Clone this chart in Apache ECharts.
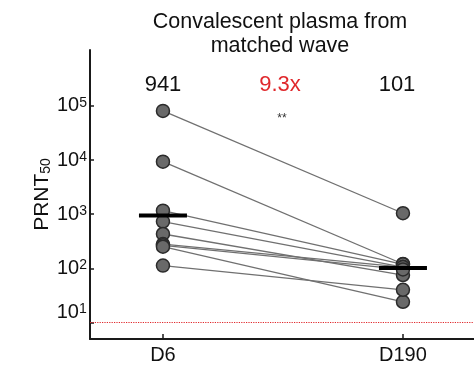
<!DOCTYPE html>
<html>
<head>
<meta charset="utf-8">
<script src="https://cdn.jsdelivr.net/npm/echarts@6/dist/echarts.min.js"></script>
<style>
  html, body { margin: 0; padding: 0; background: #fff; }
  #chart { width: 474px; height: 367px; }
</style>
</head>
<body>
<div id="chart"></div>
<script>
// Timepoints on the x axis
const timepoints = ['D6', 'D190'];
// PRNT50 titres per donor at each timepoint (paired by index)
const titreD6 = [80800, 9340, 1160, 730, 430, 280, 265, 250, 112];
const titreD190 = [1040, 120, 118, 105, 75, 105, 95, 24, 40];
// Geometric mean titres shown above each group
const geoMean = [941, 101];
// Limit of detection
const detectionLimit = 10;
// Decade ticks on the log axis
const yTicks = [10, 100, 1000, 10000, 100000];

const FONT = '"Liberation Sans", Arial, sans-serif';
const chart = echarts.init(document.getElementById('chart'), null, { renderer: 'canvas' });

// one connecting segment per donor
const pairSeries = titreD6.map((v, i) => ({
  type: 'line',
  data: [[0, v], [1, titreD190[i]]],
  symbol: 'none',
  silent: true,
  lineStyle: { color: '#707070', width: 1.3 },
  z: 2
}));

const points = [];
titreD6.forEach(v => points.push([0, v]));
titreD190.forEach(v => points.push([1, v]));

const supStyle = { fontFamily: FONT, fontSize: 14, color: '#111', verticalAlign: 'top', lineHeight: 2 };
const baseStyle = { fontFamily: FONT, fontSize: 20, color: '#111', lineHeight: 20 };

chart.setOption({
  animation: false,
  title: {
    text: 'Convalescent plasma from\nmatched wave',
    left: 275,
    top: 5,
    textAlign: 'center',
    textStyle: { fontFamily: FONT, fontSize: 21.5, fontWeight: 'normal', color: '#111', lineHeight: 24 }
  },
  grid: { left: 90, right: 0, top: 50, bottom: 28, containLabel: false },
  xAxis: {
    type: 'value',
    min: -0.304,
    max: 1.296,
    splitLine: { show: false },
    axisLine: { onZero: false, lineStyle: { color: '#1a1a1a', width: 2 } },
    axisTick: { inside: true, length: 5, lineStyle: { color: '#1a1a1a', width: 1.5 }, customValues: [0, 1] },
    axisLabel: {
      customValues: [0, 1],
      formatter: v => timepoints[Math.round(v)],
      fontFamily: FONT, fontSize: 20, color: '#111', margin: 6
    }
  },
  yAxis: {
    type: 'log',
    logBase: 10,
    min: 4.93,
    max: 1.08e6,
    name: '{b|PRNT}{s|50}',
    nameLocation: 'middle',
    nameGap: 37,
    nameMoveOverlap: false,
    nameRotate: 90,
    nameTextStyle: {
      rich: {
        b: { fontFamily: FONT, fontSize: 21, color: '#111', lineHeight: 22 },
        s: { fontFamily: FONT, fontSize: 14, color: '#111', verticalAlign: 'bottom', lineHeight: 6 }
      }
    },
    splitLine: { show: false },
    axisLine: { onZero: false, lineStyle: { color: '#1a1a1a', width: 2 } },
    axisTick: { inside: true, length: 4, lineStyle: { color: '#1a1a1a', width: 1.5 }, customValues: yTicks },
    axisLabel: {
      customValues: yTicks,
      margin: 3,
      formatter: v => {
        const e = Math.round(Math.log10(v));
        // the lowest decade label sits a little higher, clear of the detection line
        return e === 1
          ? '{lb|10}{ls|' + e + '}{pad| }'
          : '{b|10}{s|' + e + '}';
      },
      rich: {
        b: baseStyle,
        s: supStyle,
        lb: Object.assign({}, baseStyle, { verticalAlign: 'top' }),
        ls: supStyle,
        pad: { fontSize: 1, lineHeight: 40 }
      }
    }
  },
  series: [
    {
      type: 'line',
      data: [],
      silent: true,
      markLine: {
        silent: true,
        symbol: 'none',
        label: { show: false },
        lineStyle: { color: '#e0282c', type: 'dotted', width: 1.2 },
        data: [{ yAxis: detectionLimit }]
      }
    },
    ...pairSeries,
    {
      type: 'scatter',
      data: points,
      symbol: 'circle',
      symbolSize: 13,
      itemStyle: { color: '#696969', borderColor: '#2b2b2b', borderWidth: 1.5, opacity: 1 },
      z: 3
    },
    {
      type: 'scatter',
      data: geoMean.map((v, i) => [i, v]),
      symbol: 'rect',
      symbolSize: [48, 4],
      itemStyle: { color: '#000', opacity: 1 },
      z: 4
    }
  ],
  graphic: [
    {
      type: 'text', x: 163, y: 85,
      style: { text: String(geoMean[0]), fontFamily: FONT, fontSize: 22, fill: '#111', align: 'center', verticalAlign: 'middle' }
    },
    {
      type: 'text', x: 280, y: 85,
      style: { text: (geoMean[0] / geoMean[1]).toFixed(1) + 'x', fontFamily: FONT, fontSize: 22, fill: '#e0282c', align: 'center', verticalAlign: 'middle' }
    },
    {
      type: 'text', x: 397, y: 85,
      style: { text: String(geoMean[1]), fontFamily: FONT, fontSize: 22, fill: '#111', align: 'center', verticalAlign: 'middle' }
    },
    {
      type: 'text', x: 282, y: 119,
      style: { text: '**', fontFamily: FONT, fontSize: 12, fill: '#333', align: 'center', verticalAlign: 'middle' }
    }
  ]
});
</script>
</body>
</html>
